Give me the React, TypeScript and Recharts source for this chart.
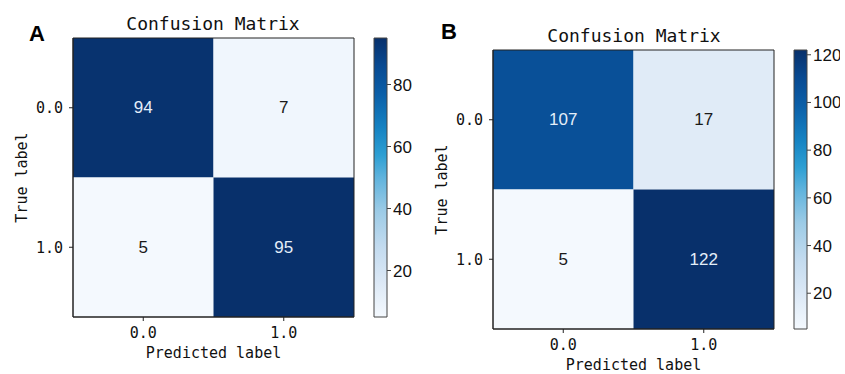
import { ReferenceArea, Scatter, ScatterChart, XAxis, YAxis } from "recharts";

const CLASS_IDX = [0, 1];
const CLASS_LABELS = ["0.0", "1.0"];
const MATRIX_A = [
  [94, 7],
  [5, 95],
];
const MATRIX_B = [
  [107, 17],
  [5, 122],
];
const CBAR_TICKS_A = [20, 40, 60, 80];
const CBAR_TICKS_B = [20, 40, 60, 80, 100, 120];

// Blues-like colormap (bottom -> top)
const BLUES: [number, string][] = [
  [0, "#f4f9fe"],
  [0.12, "#dde9f6"],
  [0.25, "#c3dbef"],
  [0.38, "#9ccbe6"],
  [0.5, "#5fb3dd"],
  [0.58, "#2d9fd3"],
  [0.68, "#1582c2"],
  [0.8, "#0b5fa8"],
  [0.9, "#084a92"],
  [1, "#08306b"],
];

const MONO = "'DejaVu Sans Mono', monospace";
const NARROW = "'Liberation Sans Narrow', 'Liberation Sans', sans-serif";
const INK = "#111";
const TICK = { fontSize: 15, fontFamily: MONO, fill: INK } as const;
const CBAR_TICK = { fontSize: 17, fontFamily: NARROW, fill: INK } as const;

function hex(c: string) {
  return [1, 3, 5].map((i) => parseInt(c.slice(i, i + 2), 16));
}

function blues(t: number) {
  for (let i = 1; i < BLUES.length; i++) {
    const [t1, c1] = BLUES[i];
    const [t0, c0] = BLUES[i - 1];
    if (t <= t1) {
      const f = (t - t0) / (t1 - t0);
      const a = hex(c0);
      const b = hex(c1);
      return `rgb(${a.map((v, k) => Math.round(v + (b[k] - v) * f)).join(",")})`;
    }
  }
  return BLUES[BLUES.length - 1][1];
}

type PanelProps = {
  id: string;
  matrix: number[][];
  cbarTicks: number[];
  left: number;
  plotTop: number;
  plotBottom: number;
};

function Panel({ id, matrix, cbarTicks, left, plotTop, plotBottom }: PanelProps) {
  const flat = matrix.flat();
  const lo = Math.min(...flat);
  const hi = Math.max(...flat);
  const cells = matrix.flatMap((r, row) => r.map((v, col) => ({ row, col, v })));

  return (
    <>
      <div style={{ position: "absolute", left, top: 0 }}>
        <ScatterChart
          width={360}
          height={374}
          margin={{ top: plotTop, right: 6, bottom: 374 - plotBottom - 30, left: 23 }}
        >
          <XAxis
            type="number"
            dataKey="col"
            domain={[-0.5, 1.5]}
            ticks={CLASS_IDX}
            interval={0}
            tickFormatter={(i: number) => CLASS_LABELS[i]}
            tick={TICK}
            tickSize={4}
            tickMargin={6}
            stroke="#222"
            height={30}
            label={{
              value: "Predicted label",
              position: "bottom",
              offset: 0,
              fontSize: 15,
              fontFamily: MONO,
              fill: INK,
            }}
          />
          <YAxis
            type="number"
            dataKey="row"
            domain={[-0.5, 1.5]}
            reversed
            ticks={CLASS_IDX}
            interval={0}
            tickFormatter={(i: number) => CLASS_LABELS[i]}
            tick={TICK}
            tickSize={4}
            tickMargin={6}
            stroke="#222"
            width={50}
            label={{
              value: "True label",
              angle: -90,
              position: "insideLeft",
              offset: -1,
              fontSize: 15,
              fontFamily: MONO,
              fill: INK,
              style: { textAnchor: "middle" },
            }}
          />
          {cells.map((c) => (
            <ReferenceArea
              key={`${c.row}-${c.col}`}
              x1={c.col - 0.5}
              x2={c.col + 0.5}
              y1={c.row - 0.5}
              y2={c.row + 0.5}
              fill={blues((c.v - lo) / (hi - lo))}
              fillOpacity={1}
              stroke="none"
            />
          ))}
          <ReferenceArea x1={-0.5} x2={1.5} y1={-0.5} y2={1.5} fill="none" stroke="#222" />
          <Scatter
            data={cells}
            isAnimationActive={false}
            shape={(p: any) => (
              <text
                x={p.cx}
                y={p.cy}
                textAnchor="middle"
                dominantBaseline="central"
                fontSize={17}
                fontFamily={NARROW}
                fill={p.payload.v > hi / 2 ? "#e4eef9" : "#1a1a1a"}
              >
                {p.payload.v}
              </text>
            )}
          />
        </ScatterChart>
      </div>
      <div style={{ position: "absolute", left: left + 360, top: 0 }}>
        <ScatterChart
          width={60}
          height={374}
          margin={{ top: plotTop, right: 0, bottom: 374 - plotBottom, left: 14 }}
        >
          <defs>
            <linearGradient id={`cbar${id}`} x1="0" y1="1" x2="0" y2="0">
              {BLUES.map(([t, c]) => (
                <stop key={t} offset={t} stopColor={c} />
              ))}
            </linearGradient>
          </defs>
          <XAxis type="number" dataKey="x" domain={[0, 1]} hide />
          <YAxis
            type="number"
            dataKey="v"
            domain={[lo, hi]}
            orientation="right"
            ticks={cbarTicks}
            interval={0}
            tick={CBAR_TICK}
            tickSize={4}
            tickMargin={2}
            axisLine={false}
            stroke="#444"
            width={33}
          />
          <ReferenceArea
            x1={0}
            x2={1}
            y1={lo}
            y2={hi}
            fill={`url(#cbar${id})`}
            fillOpacity={1}
            stroke="#444"
          />
          <Scatter
            data={[
              { x: 0, v: lo },
              { x: 1, v: hi },
            ]}
            isAnimationActive={false}
            shape={() => <g />}
          />
        </ScatterChart>
      </div>
    </>
  );
}

export default function App() {
  return (
    <div
      style={{
        position: "absolute",
        left: 0,
        top: 0,
        width: 845,
        height: 374,
        background: "#fff",
        overflow: "hidden",
      }}
    >
      <Panel id="A" matrix={MATRIX_A} cbarTicks={CBAR_TICKS_A} left={0} plotTop={38} plotBottom={317} />
      <Panel id="B" matrix={MATRIX_B} cbarTicks={CBAR_TICKS_B} left={420} plotTop={50} plotBottom={329} />
      <svg
        width={845}
        height={374}
        style={{ position: "absolute", left: 0, top: 0, pointerEvents: "none" }}
      >
        <text x={37} y={33} textAnchor="middle" dominantBaseline="central" fontSize={22} fontWeight="bold" fontFamily="'Liberation Sans', Arial, sans-serif" fill="#000">
          A
        </text>
        <text x={449} y={31.5} textAnchor="middle" dominantBaseline="central" fontSize={22} fontWeight="bold" fontFamily="'Liberation Sans', Arial, sans-serif" fill="#000">
          B
        </text>
        <text x={213} y={23} textAnchor="middle" dominantBaseline="central" fontSize={18} fontFamily={MONO} fill={INK}>
          Confusion Matrix
        </text>
        <text x={634} y={35} textAnchor="middle" dominantBaseline="central" fontSize={18} fontFamily={MONO} fill={INK}>
          Confusion Matrix
        </text>
      </svg>
    </div>
  );
}
